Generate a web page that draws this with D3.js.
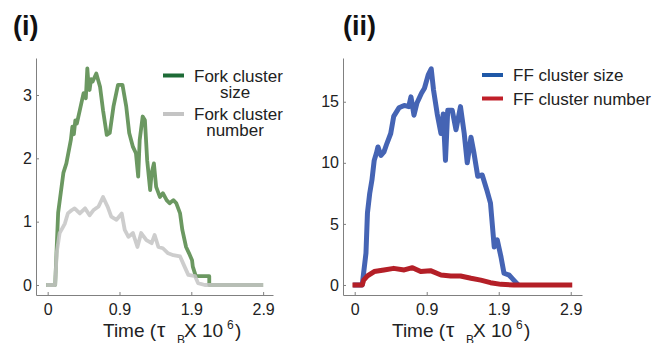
<!DOCTYPE html>
<html>
<head>
<meta charset="utf-8">
<script src="https://cdn.jsdelivr.net/npm/d3@7"></script>
<style>
	body { margin: 0; background: #fff; }
	text { font-family: "Liberation Sans", Arial, sans-serif; }
</style>
</head>
<body>
<div id="chart-area"></div>
<script>

// Tick positions and the labels printed under them
var xTicks      = [0, 0.96, 1.92, 2.88];
var xTickLabels = ["0", "0.9", "1.9", "2.9"];
var yTicksFork  = [0, 1, 2, 3];
var yTicksFF    = [0, 5, 10, 15];

// (i) Fork cluster size
var forkSizeTime = [-0.02, 0.10, 0.14, 0.21, 0.25, 0.31, 0.33, 0.35, 0.37, 0.39, 0.43, 0.48, 0.51, 0.53, 0.55, 0.56, 0.58, 0.60, 0.65, 0.70, 0.74, 0.79, 0.83, 0.88, 0.94, 1.00, 1.05, 1.09, 1.14, 1.18, 1.21, 1.23, 1.27, 1.30, 1.33, 1.37, 1.39, 1.42, 1.45, 1.50, 1.54, 1.59, 1.63, 1.68, 1.72, 1.77, 1.80, 1.85, 1.89, 1.93, 1.94, 1.98, 2.16, 2.16, 2.88];
var forkSize     = [0, 0, 1.14, 1.77, 1.92, 2.29, 2.5, 2.38, 2.6, 2.55, 2.76, 3.03, 2.95, 3.42, 3.1, 3.08, 3.25, 3.21, 3.34, 3.13, 2.76, 2.37, 2.4, 2.82, 3.16, 3.16, 2.82, 2.4, 2.18, 2.08, 1.71, 2.29, 2.66, 2.6, 1.97, 1.5, 1.77, 1.92, 1.55, 1.39, 1.45, 1.34, 1.29, 1.34, 1.29, 1.13, 0.87, 0.6, 0.5, 0.39, 0.29, 0.14, 0.14, 0, 0];

// (i) Fork cluster number
var forkNumTime = [-0.02, 0.10, 0.12, 0.16, 0.23, 0.27, 0.32, 0.36, 0.43, 0.50, 0.56, 0.61, 0.68, 0.74, 0.80, 0.85, 0.92, 0.99, 1.03, 1.08, 1.14, 1.20, 1.25, 1.32, 1.39, 1.43, 1.48, 1.54, 1.61, 1.68, 1.77, 1.83, 1.88, 1.97, 2.01, 2.10, 2.88];
var forkNumber  = [0, 0, 0.5, 0.82, 0.97, 1.13, 1.18, 1.21, 1.13, 1.21, 1.1, 1.18, 1.24, 1.39, 1.24, 1.08, 1.03, 1.13, 0.87, 0.76, 0.82, 0.6, 0.82, 0.71, 0.66, 0.79, 0.6, 0.58, 0.5, 0.47, 0.45, 0.29, 0.16, 0.14, 0.03, 0, 0];

// (ii) FF cluster size
var ffSizeTime = [-0.02, 0.10, 0.15, 0.17, 0.20, 0.23, 0.26, 0.29, 0.31, 0.35, 0.39, 0.43, 0.48, 0.52, 0.59, 0.66, 0.72, 0.75, 0.79, 0.83, 0.89, 0.93, 0.98, 1.02, 1.05, 1.10, 1.15, 1.18, 1.21, 1.24, 1.30, 1.35, 1.41, 1.46, 1.50, 1.55, 1.59, 1.64, 1.70, 1.76, 1.81, 1.86, 1.90, 1.95, 1.99, 2.06, 2.12, 2.18];
var ffSize     = [0, 0, 2.6, 5.9, 7.5, 8.6, 10.2, 10.8, 11.3, 10.6, 10.9, 11.6, 12.4, 13.8, 14.5, 14.7, 14.6, 15.4, 13.9, 14.9, 15.7, 16.1, 17.2, 17.7, 16.0, 14.0, 12.4, 14.0, 10.2, 14.3, 14.3, 12.7, 14.6, 12.4, 10.0, 12.1, 10.8, 8.9, 9.0, 7.8, 6.7, 3.1, 3.7, 2.3, 0.96, 0.8, 0.4, 0];

// (ii) FF cluster number
var ffNumTime = [-0.03, 0.10, 0.12, 0.17, 0.26, 0.39, 0.52, 0.66, 0.77, 0.88, 1.01, 1.15, 1.28, 1.41, 1.55, 1.68, 1.81, 1.95, 2.12, 2.90];
var ffNumber  = [0, 0, 0.4, 0.74, 1.1, 1.23, 1.36, 1.23, 1.42, 1.1, 1.17, 0.82, 0.74, 0.74, 0.55, 0.4, 0.19, 0.05, 0, 0];


var svg = d3.select("#chart-area")
	.append("svg")
		.attr("width", 668)
		.attr("height", 343);


// Draws one panel: axes, lines, legend, labels
function panel(opt) {
	var x = d3.scaleLinear().domain(opt.xDomain).range(opt.xRange);
	var y = d3.scaleLinear().domain(opt.yDomain).range(opt.yRange);

	var g = svg.append("g");

	// x axis, ticks point inward
	g.append("g")
		.attr("transform", "translate(0," + opt.yRange[0] + ")")
		.call(d3.axisBottom(x)
			.tickValues(xTicks)
			.tickSize(-3)
			.tickSizeOuter(0)
			.tickPadding(9)
			.tickFormat(function(d, i) { return xTickLabels[i]; }));

	// y axis
	g.append("g")
		.attr("transform", "translate(" + opt.xRange[0] + ",0)")
		.call(d3.axisLeft(y)
			.tickValues(opt.yTicks)
			.tickSize(-3)
			.tickSizeOuter(0)
			.tickPadding(4)
			.tickFormat(d3.format("d")));

	g.selectAll(".domain, .tick line").attr("stroke", "#808080");
	g.selectAll(".tick text")
		.attr("font-size", "16px")
		.attr("fill", "#222")
		.style("font-family", "'Liberation Sans', Arial, sans-serif");

	var line = d3.line()
		.x(function(d) { return x(d[0]); })
		.y(function(d) { return y(d[1]); });

	opt.series.forEach(function(s) {
		var pts = s.t.map(function(t, i) { return [t, s.v[i]]; });
		g.append("path")
			.datum(pts)
			.attr("fill", "none")
			.attr("stroke", s.color)
			.attr("stroke-width", s.width)
			.attr("stroke-opacity", s.opacity)
			.attr("stroke-linejoin", "round")
			.attr("d", line);
	});

	// legend
	opt.legend.forEach(function(l) {
		g.append("line")
			.attr("x1", l.x).attr("x2", l.x + 21)
			.attr("y1", l.y).attr("y2", l.y)
			.attr("stroke", l.color)
			.attr("stroke-width", 4);
		l.lines.forEach(function(txt, i) {
			g.append("text")
				.attr("x", i === 0 ? l.x + 31 : l.x + 72)
				.attr("y", l.y + 6 + i * 16)
				.attr("text-anchor", i === 0 ? "start" : "middle")
				.attr("font-size", "17px")
				.attr("fill", "#222")
				.text(txt);
		});
	});

	// panel label
	g.append("text")
		.attr("x", opt.labelX)
		.attr("y", 35)
		.attr("font-size", "27px")
		.attr("font-weight", "bold")
		.attr("fill", "#111")
		.text(opt.label);

	// axis title: Time (τ_B X 10^6 )
	var tx = opt.titleX;
	var title = g.append("text")
		.attr("y", 337)
		.attr("font-size", "19px")
		.attr("fill", "#222");
	title.append("tspan").attr("x", tx).text("Time (");
	title.append("tspan").attr("x", tx + 54).attr("font-size", "21px").text("τ");
	title.append("tspan").attr("x", tx + 74).attr("dy", 7).attr("font-size", "12px").text("B");
	title.append("tspan").attr("x", tx + 81).attr("dy", -7).text("X");
	title.append("tspan").attr("x", tx + 99).text("10");
	title.append("tspan").attr("x", tx + 124).attr("dy", -8).attr("font-size", "12px").text("6");
	title.append("tspan").attr("x", tx + 132).attr("dy", 8).text(")");
}


panel({
	xDomain: [-0.156, 3.012], xRange: [36, 273],
	yDomain: [-0.158, 3.584], yRange: [295, 58],
	yTicks: yTicksFork,
	label: "(i)", labelX: 13, titleX: 103,
	series: [
		{ t: forkSizeTime, v: forkSize,   color: "#6b9861", width: 3.8, opacity: 1 },
		{ t: forkNumTime,  v: forkNumber, color: "#c4c4c4", width: 3.8, opacity: 0.85 }
	],
	legend: [
		{ x: 163, y: 75.5, color: "#1d6b36", lines: ["Fork cluster", "size"] },
		{ x: 163, y: 114,  color: "#c4c4c4", lines: ["Fork cluster", "number"] }
	]
});

panel({
	xDomain: [-0.156, 3.03], xRange: [343, 582],
	yDomain: [-0.82, 18.58], yRange: [295, 58],
	yTicks: yTicksFF,
	label: "(ii)", labelX: 343, titleX: 392,
	series: [
		{ t: ffSizeTime, v: ffSize,   color: "#4564b4", width: 5, opacity: 1 },
		{ t: ffNumTime,  v: ffNumber, color: "#b41f27", width: 5, opacity: 1 }
	],
	legend: [
		{ x: 482, y: 75,   color: "#1f58a7", lines: ["FF cluster size"] },
		{ x: 482, y: 98.5, color: "#c01f29", lines: ["FF cluster number"] }
	]
});

</script>
</body>
</html>
